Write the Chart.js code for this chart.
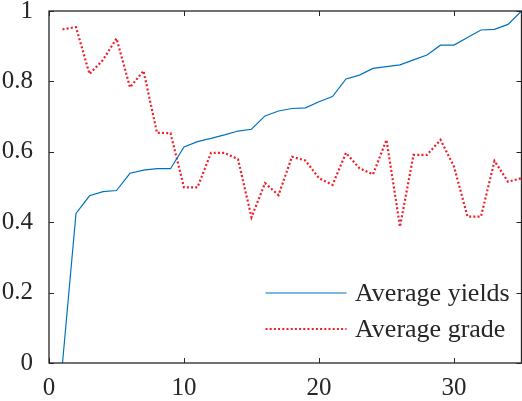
<!DOCTYPE html>
<html>
<head>
<meta charset="utf-8">
<script src="https://cdn.jsdelivr.net/npm/chart.js@4/dist/chart.umd.min.js"></script>
<style>
html,body{margin:0;padding:0;background:#fff;}
#wrap{width:522px;height:401px;position:relative;}
</style>
</head>
<body>
<div id="wrap"><canvas id="c" width="522" height="401"></canvas></div>
<script>
const xValues = [1,2,3,4,5,6,7,8,9,10,11,12,13,14,15,16,17,18,19,20,21,22,23,24,25,26,27,28,29,30,31,32,33,34,35];
const yields = [0,0.425,0.475,0.487,0.49,0.539,0.548,0.552,0.552,0.614,0.629,0.638,0.648,0.659,0.664,0.702,0.716,0.723,0.725,0.742,0.757,0.807,0.818,0.837,0.842,0.847,0.861,0.875,0.903,0.903,0.925,0.946,0.948,0.962,1.0];
const grade = [0.948,0.954,0.821,0.861,0.922,0.783,0.830,0.654,0.653,0.499,0.499,0.597,0.597,0.579,0.414,0.511,0.477,0.586,0.575,0.525,0.506,0.597,0.553,0.536,0.634,0.387,0.591,0.591,0.634,0.558,0.416,0.416,0.574,0.515,0.525];
const seriesNames = ['Average yields','Average grade'];
const xTicks = [0,10,20,30];
const yTicks = [0,0.2,0.4,0.6,0.8,1];

const AXC = '#262626';
const FONT = "'Liberation Serif', 'Times New Roman', serif";

const boxTicks = {
  id:'boxTicks',
  afterDatasetsDraw(chart){
    const {ctx, chartArea:a, scales:{x,y}} = chart;
    ctx.save();
    ctx.strokeStyle = AXC;
    ctx.lineWidth = 1.3;
    ctx.strokeRect(a.left, a.top, a.right-a.left, a.bottom-a.top);
    ctx.lineWidth = 1;
    const L = 5;
    ctx.beginPath();
    xTicks.forEach(v=>{
      const px = Math.round(x.getPixelForValue(v))+0.5;
      ctx.moveTo(px,a.bottom); ctx.lineTo(px,a.bottom-L);
      ctx.moveTo(px,a.top); ctx.lineTo(px,a.top+L);
    });
    yTicks.forEach(v=>{
      const py = Math.round(y.getPixelForValue(v))+0.5;
      ctx.moveTo(a.left,py); ctx.lineTo(a.left+L,py);
      ctx.moveTo(a.right,py); ctx.lineTo(a.right-L,py);
    });
    ctx.stroke();
    // legend
    const items = chart.data.datasets;
    const lx0 = 265.5, lx1 = 346.5, tx = 355;
    const ys = [293, 329];
    ctx.font = "26px " + FONT;
    ctx.textBaseline = 'middle';
    ctx.fillStyle = AXC;
    items.forEach((ds,i)=>{
      ctx.save();
      ctx.strokeStyle = ds.borderColor;
      ctx.lineWidth = ds.borderWidth;
      ctx.setLineDash(ds.borderDash || []);
      ctx.beginPath();
      ctx.moveTo(lx0, ys[i]); ctx.lineTo(lx1, ys[i]);
      ctx.stroke();
      ctx.restore();
      ctx.fillText(ds.label, tx, ys[i]+1);
    });
    ctx.restore();
  }
};

new Chart(document.getElementById('c'), {
  type:'line',
  data:{
    datasets:[
      {label:seriesNames[0], data:xValues.map((v,i)=>({x:v,y:yields[i]})), borderColor:'#0072BD', borderWidth:1.2, pointRadius:0, tension:0, fill:false},
      {label:seriesNames[1], data:xValues.map((v,i)=>({x:v,y:grade[i]})), borderColor:'rgb(240,30,40)', borderWidth:2.2, borderDash:[2,2.2], pointRadius:0, tension:0, fill:false}
    ]
  },
  options:{
    responsive:false,
    animation:false,
    devicePixelRatio:1,
    layout:{padding:{top:11,right:0.5,left:0,bottom:0}},
    plugins:{legend:{display:false}, tooltip:{enabled:false}},
    scales:{
      x:{type:'linear', min:0, max:35,
        afterBuildTicks(s){ s.ticks = xTicks.map(v=>({value:v})); },
        afterFit(s){ s.height = 38; s.paddingLeft = 0; s.paddingRight = 0; },
        grid:{display:false}, border:{display:false},
        ticks:{color:AXC, font:{family:FONT,size:25}, padding:2, maxRotation:0, callback:v=>String(v)}
      },
      y:{min:0, max:1,
        afterBuildTicks(s){ s.ticks = yTicks.map(v=>({value:v})); },
        afterFit(s){ s.width = 49; s.paddingTop = 0; s.paddingBottom = 0; },
        grid:{display:false}, border:{display:false},
        ticks:{color:AXC, font:{family:FONT,size:25}, padding:8, callback:v=>(v===0||v===1)?String(v):v.toFixed(1)}
      }
    }
  },
  plugins:[boxTicks]
});
</script>
</body>
</html>
